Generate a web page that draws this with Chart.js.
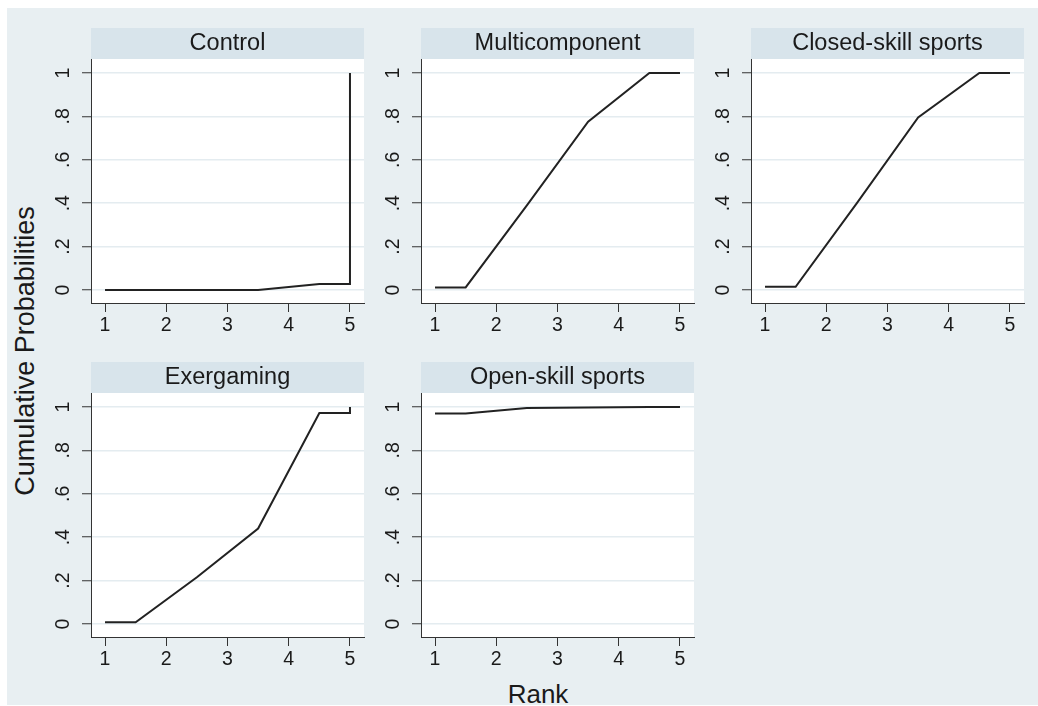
<!DOCTYPE html>
<html>
<head>
<meta charset="utf-8">
<script src="https://cdn.jsdelivr.net/npm/chart.js@4.4.1/dist/chart.umd.min.js"></script>
<style>
  body { margin: 0; background: #fff; width: 1038px; height: 706px; overflow: hidden;
         font-family: "Liberation Sans", Arial, sans-serif; color: #1a1a1a; }
  #frame { position: absolute; left: 7px; top: 8px; width: 1031px; height: 697px; background: #e8eff2; }
  canvas.panel { position: absolute; }
  .title { position: absolute; white-space: nowrap; line-height: 1; }
  #ytitle { left: 25px; top: 351px; font-size: 27px; transform: translate(-50%, -50%) rotate(-90deg); }
  #xtitle { left: 538px; top: 694px; font-size: 26px; transform: translate(-50%, -50%); }
</style>
</head>
<body>
<div id="frame"></div>
<div class="title" id="ytitle">Cumulative Probabilities</div>
<div class="title" id="xtitle">Rank</div>
<script>
// cumulative rank probabilities
const panelTitles = ['Control', 'Multicomponent', 'Closed-skill sports', 'Exergaming', 'Open-skill sports'];
const rankPoints = [1, 1.5, 2.5, 3.5, 4.5, 5, 5];
const control        = [0, 0, 0, 0, 0.028, 0.028, 1];
const multicomponent = [0.012, 0.012, 0.39, 0.776, 1, 1, 1];
const closedSkill    = [0.015, 0.015, 0.40, 0.795, 1, 1, 1];
const exergaming     = [0.008, 0.008, 0.215, 0.44, 0.972, 0.972, 1];
const openSkill      = [0.97, 0.97, 0.995, 0.998, 1, 1, 1];
const xTicks = [1, 2, 3, 4, 5];
const yTicks = [0, 0.2, 0.4, 0.6, 0.8, 1];
const yTickLabels = ['0', '.2', '.4', '.6', '.8', '1'];

const seriesList = [control, multicomponent, closedSkill, exergaming, openSkill];

// panel layout (plot left edge, strip top edge)
const panelPos = [[91, 28], [421, 28], [751, 28], [91, 362], [421, 362]];
const PAD_L = 70, PAD_R = 8, STRIP = 31, PLOT_W = 273, PLOT_H = 244, AXIS_H = 40;
const FONT = '"Liberation Sans", Arial, sans-serif';
const AXIS_COLOR = '#333';

const stripPlugin = {
  id: 'strip',
  beforeDraw(chart, args, opts) {
    const { ctx, chartArea: a } = chart;
    ctx.save();
    ctx.fillStyle = '#d8e4eb';
    ctx.fillRect(a.left, a.top - STRIP, a.right - a.left, STRIP);
    ctx.fillStyle = '#fff';
    ctx.fillRect(a.left, a.top, a.right - a.left, a.bottom - a.top);
    ctx.fillStyle = '#1a1a1a';
    ctx.font = '23.5px ' + FONT;
    ctx.textAlign = 'center';
    ctx.textBaseline = 'middle';
    ctx.fillText(opts.title, (a.left + a.right) / 2, a.top - STRIP / 2 + 0.5);
    ctx.restore();
  }
};

panelTitles.forEach((title, p) => {
  const cv = document.createElement('canvas');
  cv.className = 'panel';
  const w = PAD_L + PLOT_W + PAD_R, h = STRIP + PLOT_H + AXIS_H;
  cv.width = w; cv.height = h;
  cv.style.width = w + 'px'; cv.style.height = h + 'px';
  cv.style.left = (panelPos[p][0] - PAD_L) + 'px';
  cv.style.top = panelPos[p][1] + 'px';
  document.body.appendChild(cv);

  const series = seriesList[p];
  new Chart(cv.getContext('2d'), {
    type: 'line',
    data: {
      datasets: [{
        data: rankPoints.map((x, i) => ({ x: x, y: series[i] })),
        borderColor: '#222',
        borderWidth: 2,
        pointRadius: 0,
        tension: 0,
        fill: false
      }]
    },
    options: {
      responsive: false,
      animation: false,
      devicePixelRatio: 1,
      layout: { padding: { left: 0, right: PAD_R, top: STRIP, bottom: 0 } },
      plugins: {
        legend: { display: false },
        tooltip: { enabled: false },
        strip: { title: title }
      },
      scales: {
        x: {
          type: 'linear',
          min: 0.771,
          max: 5.229,
          afterBuildTicks: s => { s.ticks = xTicks.map(v => ({ value: v })); },
          afterFit: s => { s.height = AXIS_H; },
          grid: { drawOnChartArea: false, drawTicks: true, tickLength: 9, tickColor: AXIS_COLOR, tickWidth: 1 },
          border: { display: true, color: AXIS_COLOR, width: 1 },
          ticks: { autoSkip: false, maxRotation: 0, padding: 2, color: '#1a1a1a', font: { size: 19.5, family: FONT } }
        },
        y: {
          type: 'linear',
          min: -0.06,
          max: 1.0645,
          afterBuildTicks: s => { s.ticks = yTicks.map(v => ({ value: v })); },
          afterFit: s => { s.width = PAD_L; },
          grid: { color: '#e4ecf0', lineWidth: 1.5, drawTicks: true, tickLength: 9, tickColor: AXIS_COLOR, tickWidth: 1 },
          border: { display: true, color: AXIS_COLOR, width: 1 },
          ticks: {
            autoSkip: false, minRotation: 90, maxRotation: 90, crossAlign: 'center', padding: 10,
            color: '#1a1a1a', font: { size: 19.5, family: FONT },
            callback: (v, i) => yTickLabels[i]
          }
        }
      }
    },
    plugins: [stripPlugin]
  });
});
</script>
</body>
</html>
